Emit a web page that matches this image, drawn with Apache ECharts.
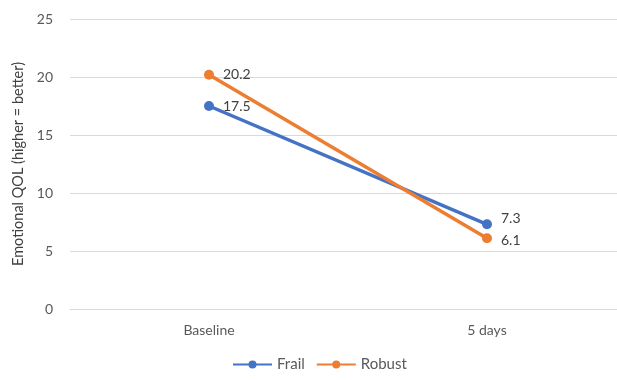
<!DOCTYPE html>
<html>
<head>
<meta charset="utf-8">
<script src="https://cdn.jsdelivr.net/npm/echarts@6/dist/echarts.min.js"></script>
<style>
  html, body { margin: 0; padding: 0; background: #fff; }
  #chart { width: 617px; height: 380px; }
</style>
</head>
<body>
<div id="chart"></div>
<script>
// Emotional QOL scores at baseline and after 5 days
const categories = ['Baseline', '5 days'];
const frail = [17.5, 7.3];
const robust = [20.2, 6.1];
const yTicks = { min: 0, max: 25, interval: 5 };

const font = 'Lato, "Open Sans", sans-serif';
const textColor = '#595959';

const chart = echarts.init(document.getElementById('chart'), null, { renderer: 'canvas' });

function labelCfg() {
  return {
    show: true,
    position: 'right',
    distance: 9,
    color: '#404040',
    fontFamily: font,
    fontSize: 14,
    formatter: p => p.value.toFixed(1)
  };
}

function seriesData(values, offsets) {
  return values.map((v, i) => ({
    value: v,
    label: { offset: offsets[i] }
  }));
}

chart.setOption({
  animation: false,
  textStyle: { fontFamily: font },
  // the plot area runs past the right edge of the canvas
  grid: { left: 70, top: 19, width: 556, height: 290, containLabel: false, outerBoundsMode: 'none' },
  legend: {
    bottom: 3,
    left: 227,
    itemWidth: 39,
    itemHeight: 10,
    itemGap: 11,
    textStyle: { color: textColor, fontSize: 15, fontFamily: font },
    data: ['Frail', 'Robust']
  },
  xAxis: {
    type: 'category',
    data: categories,
    boundaryGap: true,
    axisLine: { show: true, lineStyle: { color: '#d9d9d9', width: 1 } },
    axisTick: { show: false },
    axisLabel: { color: textColor, fontSize: 14, fontFamily: font, margin: 14 }
  },
  yAxis: {
    type: 'value',
    min: yTicks.min,
    max: yTicks.max,
    interval: yTicks.interval,
    name: 'Emotional QOL (higher = better)',
    nameLocation: 'middle',
    nameGap: 40,
    nameTextStyle: { color: '#404040', fontSize: 14.5, fontFamily: font },
    axisLine: { show: false },
    axisTick: { show: false },
    axisLabel: { color: textColor, fontSize: 14, fontFamily: font, margin: 17 },
    splitLine: { lineStyle: { color: '#d9d9d9', width: 1 } }
  },
  series: [
    {
      name: 'Frail',
      type: 'line',
      data: seriesData(frail, [[0, 0], [0, -6]]),
      color: '#4472C4',
      lineStyle: { width: 3.5 },
      symbol: 'circle',
      symbolSize: 10,
      label: labelCfg()
    },
    {
      name: 'Robust',
      type: 'line',
      data: seriesData(robust, [[0, 0], [0, 2]]),
      color: '#ED7D31',
      lineStyle: { width: 3.5 },
      symbol: 'circle',
      symbolSize: 10,
      label: labelCfg()
    }
  ]
});
</script>
</body>
</html>
